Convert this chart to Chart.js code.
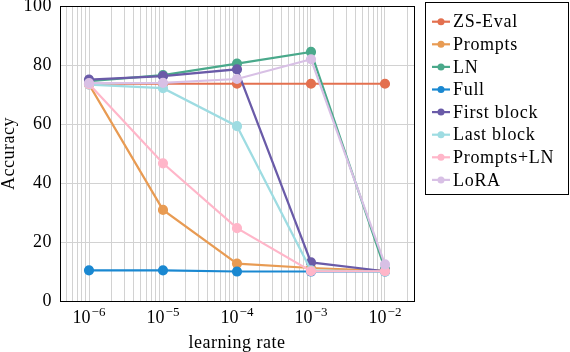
<!DOCTYPE html>
<html>
<head>
<meta charset="utf-8">
<script src="https://cdn.jsdelivr.net/npm/chart.js@4.4.1/dist/chart.umd.min.js"></script>
<style>
  html, body { margin: 0; padding: 0; background: #fff; }
</style>
</head>
<body>
<canvas id="lrChart" width="570" height="352"></canvas>
<script>
// learning rates on the x axis
var rates = [1e-6, 1e-5, 1e-4, 1e-3, 1e-2];
var rateExps = [-6, -5, -4, -3, -2];
var yTicks = [0, 20, 40, 60, 80, 100];

var methods = ["ZS-Eval", "Prompts", "LN", "Full", "First block", "Last block", "Prompts+LN", "LoRA"];
var zsEval     = [73.7, 73.7, 73.7, 73.7, 73.7];
var prompts    = [73.5, 30.9, 12.7, 11.2, 10.2];
var ln         = [74.6, 76.6, 80.5, 84.5, 10.8];
var full       = [10.4, 10.4, 10.0, 10.0, 10.0];
var firstBlock = [75.1, 76.3, 78.6, 13.1, 10.1];
var lastBlock  = [73.4, 72.2, 59.3, 10.4, 10.0];
var promptsLn  = [73.6, 46.7, 24.7, 10.1, 10.1];
var lora       = [73.9, 74.0, 75.3, 82.0, 12.4];
var colors = ["#e3704f", "#e89b53", "#4aa98b", "#1a88d1", "#6a5ba8", "#9edce2", "#ffb6c9", "#d8c0e5"];

var series = [zsEval, prompts, ln, full, firstBlock, lastBlock, promptsLn, lora];
var FONT = "'Liberation Serif', 'Times New Roman', serif";

function makeDataset(name, vals, i) {
  return {
    label: name,
    data: rates.map(function (r, k) { return { x: r, y: vals[k] }; }),
    borderColor: colors[i],
    backgroundColor: colors[i],
    pointBackgroundColor: colors[i],
    pointBorderColor: colors[i],
    borderWidth: 2.2,
    pointRadius: 4,
    pointHoverRadius: 4,
    order: series.length - i   // later series on top, like the original
  };
}

// a bit of tracking so the serif looks closer to the LaTeX font
var spacingPlugin = {
  id: "spacing",
  beforeDraw: function (chart) { chart.ctx.letterSpacing = "0.5px"; }
};

// black frame around plot + x tick labels with superscripts
var framePlugin = {
  id: "frame",
  afterDraw: function (chart) {
    var ctx = chart.ctx, a = chart.chartArea;
    ctx.save();
    ctx.letterSpacing = "0px";
    ctx.strokeStyle = "#000";
    ctx.lineWidth = 1;
    ctx.strokeRect(Math.round(a.left) + 0.5, Math.round(a.top) + 0.5,
                   Math.round(a.right - a.left), Math.round(a.bottom - a.top));
    var xs = chart.scales.x;
    ctx.fillStyle = "#000";
    ctx.textBaseline = "alphabetic";
    rates.forEach(function (r, k) {
      var px = xs.getPixelForValue(r);
      ctx.font = "18px " + FONT;
      var w1 = ctx.measureText("10").width;
      ctx.font = "13px " + FONT;
      var sup = "\u2212" + Math.abs(rateExps[k]);
      var w2 = ctx.measureText(sup).width;
      var x0 = px - (w1 + w2 + 1) / 2;
      ctx.font = "18px " + FONT;
      ctx.fillText("10", x0, 323);
      ctx.font = "13px " + FONT;
      ctx.fillText(sup, x0 + w1 + 1, 316);
    });
    ctx.restore();
  }
};

// boxed legend on the right
var legendPlugin = {
  id: "boxLegend",
  afterDraw: function (chart) {
    var ctx = chart.ctx;
    ctx.save();
    ctx.fillStyle = "#fff";
    ctx.fillRect(425, 2, 143, 192);
    ctx.strokeStyle = "#000";
    ctx.lineWidth = 1;
    ctx.strokeRect(425.5, 2.5, 143, 192);
    chart.data.datasets.forEach(function (ds, i) {
      var y = 21.7 + i * 22.6;
      ctx.strokeStyle = ds.borderColor;
      ctx.lineWidth = 2.2;
      ctx.beginPath();
      ctx.moveTo(432, y);
      ctx.lineTo(450, y);
      ctx.stroke();
      ctx.fillStyle = ds.borderColor;
      ctx.beginPath();
      ctx.arc(441, y, 3.5, 0, Math.PI * 2);
      ctx.fill();
      ctx.fillStyle = "#000";
      ctx.font = "18px " + FONT;
      ctx.letterSpacing = "0.7px";
      ctx.textBaseline = "middle";
      ctx.fillText(ds.label, 453, y + 1);
    });
    ctx.restore();
  }
};

var lrChart = new Chart("lrChart", {
  type: "line",
  data: {
    datasets: methods.map(function (m, i) { return makeDataset(m, series[i], i); })
  },
  options: {
    responsive: false,
    animation: false,
    layout: { padding: { top: 6, right: 156, left: 0, bottom: 0 } },
    plugins: {
      legend: { display: false },
      tooltip: { enabled: false }
    },
    scales: {
      x: {
        type: "logarithmic",
        min: Math.pow(10, -6.392),
        max: Math.pow(10, -1.608),
        afterBuildTicks: function (axis) {
          var t = [];
          for (var e = -7; e <= -2; e++) {
            for (var s = 1; s <= 9; s++) {
              var v = s * Math.pow(10, e);
              if (v >= axis.min && v <= axis.max) t.push({ value: v });
            }
          }
          axis.ticks = t;
        },
        afterFit: function (axis) {
          axis.height = 51;
          axis.paddingLeft = 0;
          axis.paddingRight = 0;
        },
        grid: { color: "#d2d2d2", lineWidth: 1, drawTicks: false },
        border: { display: false },
        ticks: { display: false },
        title: {
          display: true,
          text: "learning rate",
          color: "#000",
          font: { family: FONT, size: 18 },
          padding: { top: 0, bottom: -2 }
        }
      },
      y: {
        min: 0,
        max: 100,
        afterBuildTicks: function (axis) {
          axis.ticks = yTicks.map(function (v) { return { value: v }; });
        },
        afterFit: function (axis) {
          axis.width = 60;
          axis.paddingTop = 0;
          axis.paddingBottom = 0;
        },
        grid: { color: "#d2d2d2", lineWidth: 1, drawTicks: false },
        border: { display: false },
        ticks: {
          color: "#000",
          font: { family: FONT, size: 18 },
          padding: 8
        },
        title: {
          display: true,
          text: "Accuracy",
          color: "#000",
          font: { family: FONT, size: 18 },
          padding: { top: -2, bottom: 0 }
        }
      }
    }
  },
  plugins: [spacingPlugin, framePlugin, legendPlugin]
});
</script>
</body>
</html>
